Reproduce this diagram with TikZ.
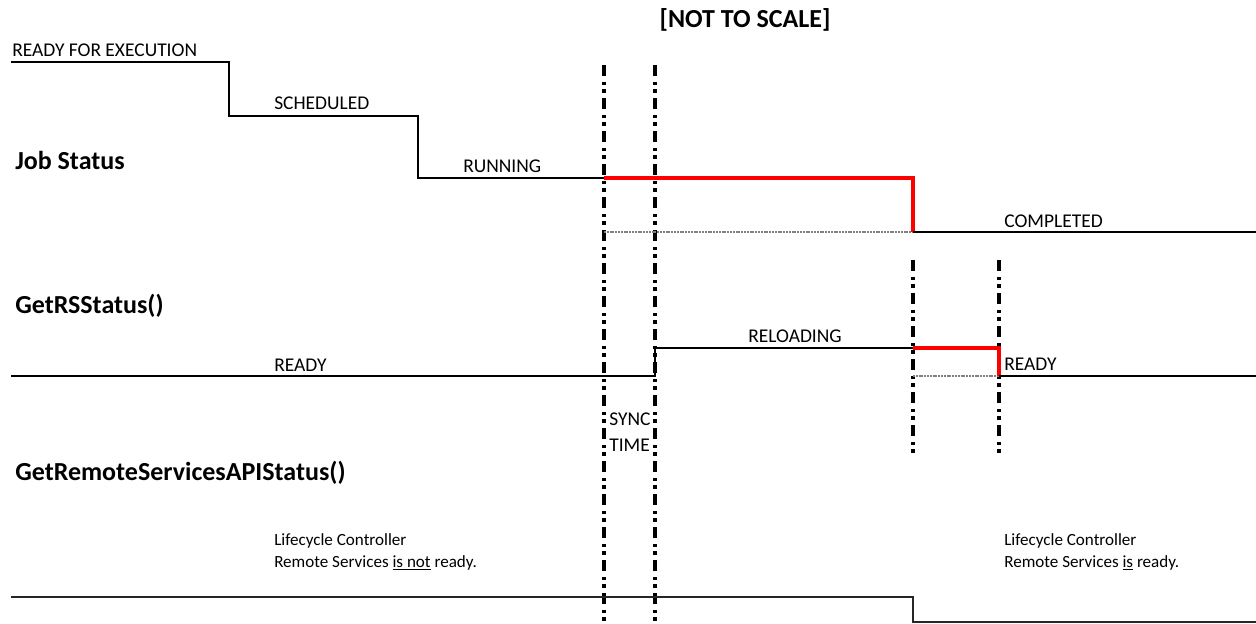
\documentclass[tikz,border=0pt]{standalone}
\usepackage{fontspec}
\setmainfont{Carlito}
\tikzset{
  lbl/.style={anchor=base west, inner sep=0pt, font=\fontsize{12.8}{15}\selectfont},
  caps/.style={lbl, font=\fontsize{14.6}{17}\selectfont},
  head/.style={anchor=base west, inner sep=0pt, font=\fontsize{19.5}{23}\selectfont\bfseries},
  sig/.style={line width=1.5pt, black},
  hot/.style={line width=2.6pt, red},
  ghost/.style={line width=1.1pt, gray, dash pattern=on 1.5pt off 0.6pt},
  sync/.style={line width=2.4pt, black, dash pattern=on 8.25pt off 4.5pt on 2.4pt off 3pt on 2.6pt off 4pt}
}
\begin{document}
\begin{tikzpicture}[x=0.75pt, y=-0.75pt]
        \useasboundingbox (0,0) rectangle (1256,624);
        % Titolo
        \node[head, anchor=base] (title) at (745,28) {[NOT TO SCALE]};
        % Etichette dei segnali
        \node[head] (job) at (15,170) {Job Status};
        \node[head] (rs) at (15,313) {GetRSStatus()};
        \node[head] (api) at (15,480) {GetRemoteServicesAPIStatus()};
        % Linee di sincronizzazione
        \draw[sync] (604,65) -- (604,624);
        \draw[sync] (655,65) -- (655,624);
        \draw[sync] (913,260) -- (913,456);
        \draw[sync] (999,260) -- (999,456);
        % Job Status
        \draw[ghost] (604,232) -- (913,232);
        \draw[sig] (11,62) -- (229,62) -- (229,116) -- (418,116) -- (418,178) -- (604,178);
        \draw[hot] (604,178) -- (913,178) -- (913,232);
        \draw[sig] (913,232) -- (1256,232);
        \node[caps] (rfe) at (12,57) {READY FOR EXECUTION};
        \node[caps] (sched) at (274,110) {SCHEDULED};
        \node[caps] (run) at (463,172) {RUNNING};
        \node[caps] (done) at (1004,227) {COMPLETED};
        % GetRSStatus
        \draw[ghost] (913,376) -- (999,376);
        \draw[sig] (11,376) -- (655,376) -- (655,348) -- (913,348);
        \draw[hot] (913,348) -- (999,348) -- (999,376);
        \draw[sig] (999,376) -- (1256,376);
        \node[caps] (rdy) at (274,371) {READY};
        \node[caps, anchor=base] (reload) at (795,342) {RELOADING};
        \node[caps] (rdy2) at (1004,370) {READY};
        % Sync time
        \node[caps] (sync1) at (609,425) {SYNC};
        \node[caps] (sync2) at (609,451) {TIME};
        % GetRemoteServicesAPIStatus
        \draw[sig, black!85] (11,597) -- (913,597) -- (913,622) -- (1256,622);
        \node[lbl] (lc1) at (274,545) {Lifecycle Controller};
        \node[lbl] (lc2) at (274,567) {Remote Services \underline{is not} ready.};
        \node[lbl] (lc3) at (1004,545) {Lifecycle Controller};
        \node[lbl] (lc4) at (1004,567) {Remote Services \underline{is} ready.};
    \end{tikzpicture}
\end{document}
